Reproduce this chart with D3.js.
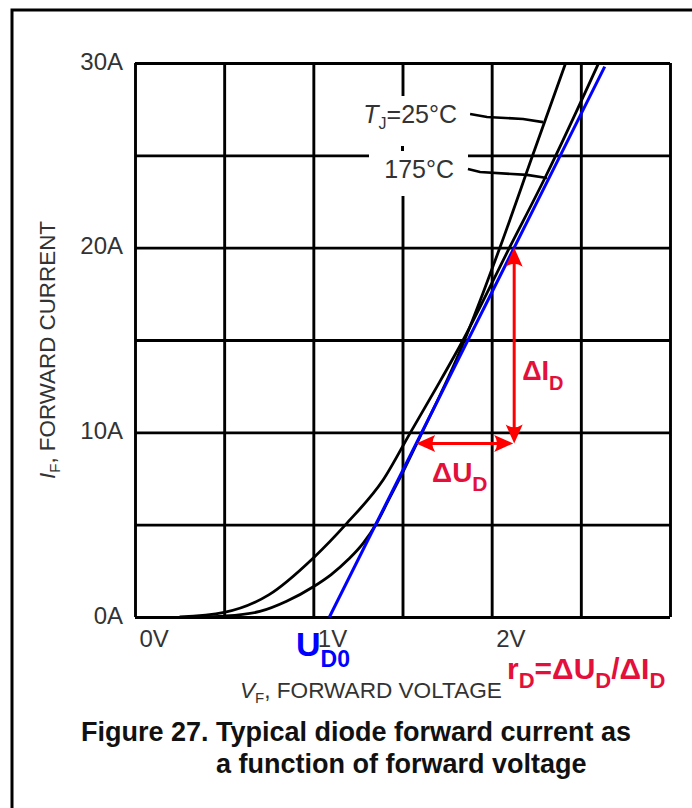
<!DOCTYPE html>
<html>
<head>
<meta charset="utf-8">
<script src="https://cdn.jsdelivr.net/npm/d3@7"></script>
<style>
body { margin: 0; background: #fff; }
text { font-family: "Liberation Sans", Arial, sans-serif; }
</style>
</head>
<body>
<script>
"use strict";

// axis ticks and labels
var voltTicks = [0, 0.5, 1, 1.5, 2, 2.5, 3];
var voltLabels = ["0V", "", "1V", "", "2V", "", ""];
var currTicks = [0, 5, 10, 15, 20, 25, 30];
var currLabels = ["0A", "", "10A", "", "20A", "", "30A"];

// Tj = 25 C curve (V, A)
var volt25 = [0.35, 0.50, 0.70, 0.85, 1.00, 1.10, 1.20, 1.28, 1.35, 1.42, 1.50, 1.60, 1.72, 1.84, 1.95, 2.05, 2.23, 2.415];
var curr25 = [0, 0.05, 0.3, 0.85, 1.64, 2.3, 3.15, 4.0, 5.0, 6.3, 7.8, 9.8, 12.2, 14.8, 17.5, 20.1, 25, 30];

// Tj = 175 C curve (V, A)
var volt175 = [0.25, 0.50, 0.75, 1.00, 1.19, 1.39, 1.545, 1.695, 1.84, 2.10, 2.30, 2.60];
var curr175 = [0, 0.25, 1.2, 3.2, 5.1, 7.4, 10, 12.5, 15, 20, 23.8, 30];

// linear model I = (V - uD0) * slope
var uD0 = 1.09;
var slopeAV = 19.3;
var lineTopI = 29.8;
var deltaTopI = 20;
var deltaLowI = 9.4;

// label leaders (V, A)
var leader25V = [1.879, 1.974, 2.176, 2.288];
var leader25I = [27.24, 27.08, 26.97, 26.80];
var leader175V = [1.867, 1.935, 2.198, 2.31];
var leader175I = [24.26, 24.10, 23.94, 23.77];

var widthEcran = 692;
var heightEcran = 808;
var plot = {left: 135, right: 670, top: 63, bottom: 617};
var red = "#ff0000";
var crimson = "#e3103c";
var grey = "#333";

var x = d3.scaleLinear().domain([0, 3]).range([plot.left, plot.right]);
var y = d3.scaleLinear().domain([0, 30]).range([plot.bottom, plot.top]);

function zipPts(vs, is) {
    return vs.map(function (v, k) { return {v: v, i: is[k]}; });
}

function baseCanvas() {
    var canvas = d3.select("body")
        .append("svg")
        .attr("width", widthEcran)
        .attr("height", heightEcran);
    canvas.append("rect")
        .attr("x", 12)
        .attr("y", 10)
        .attr("width", 720)
        .attr("height", 830)
        .attr("fill", "white")
        .attr("stroke", "black")
        .attr("stroke-width", 3);
    return canvas;
}

function baseGrid(canvas) {
    var gx = canvas.append("g")
        .attr("transform", "translate(0," + plot.bottom + ")")
        .call(d3.axisBottom(x)
            .tickValues(voltTicks)
            .tickSize(-(plot.bottom - plot.top))
            .tickFormat(function (d, k) { return voltLabels[k]; }));
    var gy = canvas.append("g")
        .attr("transform", "translate(" + plot.left + ",0)")
        .call(d3.axisLeft(y)
            .tickValues(currTicks)
            .tickSize(-(plot.right - plot.left))
            .tickFormat(function (d, k) { return currLabels[k]; }));
    [gx, gy].forEach(function (g) {
        g.select(".domain").remove();
        g.selectAll("line")
            .attr("stroke", "black")
            .attr("stroke-width", 2.9);
        g.selectAll("text")
            .attr("fill", grey)
            .attr("font-size", 24)
            .attr("font-family", "Liberation Sans, Arial, sans-serif");
    });
    gx.selectAll("text")
        .attr("text-anchor", "start")
        .attr("x", 4)
        .attr("y", 30)
        .attr("dy", null);
    gy.selectAll("text")
        .attr("x", -12)
        .attr("y", 6)
        .attr("dy", null);

    // gap in the grid behind the temperature labels
    canvas.append("rect")
        .attr("x", 369)
        .attr("y", 96)
        .attr("width", 99)
        .attr("height", 100)
        .attr("fill", "white");
    canvas.append("rect")
        .attr("x", x(1.5) - 1.5)
        .attr("y", 146)
        .attr("width", 3)
        .attr("height", 5)
        .attr("fill", "black");
}

function baseCurves(canvas) {
    var line = d3.line()
        .x(function (d) { return x(d.v); })
        .y(function (d) { return y(d.i); })
        .curve(d3.curveMonotoneX);
    [zipPts(volt25, curr25), zipPts(volt175, curr175)].forEach(function (pts) {
        canvas.append("path")
            .attr("d", line(pts))
            .attr("fill", "none")
            .attr("stroke", "black")
            .attr("stroke-width", 2.8);
    });

    var leader = d3.line()
        .x(function (d) { return x(d.v); })
        .y(function (d) { return y(d.i); });
    [zipPts(leader25V, leader25I), zipPts(leader175V, leader175I)].forEach(function (pts) {
        canvas.append("path")
            .attr("d", leader(pts))
            .attr("fill", "none")
            .attr("stroke", "black")
            .attr("stroke-width", 2.6);
    });

    canvas.append("path")
        .attr("d", leader([{v: uD0, i: 0}, {v: uD0 + lineTopI / slopeAV, i: lineTopI}]))
        .attr("fill", "none")
        .attr("stroke", "#0000ff")
        .attr("stroke-width", 3);
}

function baseArrow(canvas, x1, y1, x2, y2) {
    var len = Math.hypot(x2 - x1, y2 - y1);
    var ux = (x2 - x1) / len, uy = (y2 - y1) / len;
    var head = 19, half = 8.5;
    canvas.append("line")
        .attr("x1", x1 + ux * head * 0.8)
        .attr("y1", y1 + uy * head * 0.8)
        .attr("x2", x2 - ux * head * 0.8)
        .attr("y2", y2 - uy * head * 0.8)
        .attr("stroke", red)
        .attr("stroke-width", 3);
    [[x1, y1, ux, uy], [x2, y2, -ux, -uy]].forEach(function (a) {
        var bx = a[0] + a[2] * head, by = a[1] + a[3] * head;
        canvas.append("path")
            .attr("d", "M" + a[0] + "," + a[1] +
                "L" + (bx - a[3] * half) + "," + (by + a[2] * half) +
                "Q" + (a[0] + a[2] * head * 0.7) + "," + (a[1] + a[3] * head * 0.7) + " " +
                (bx + a[3] * half) + "," + (by - a[2] * half) + "Z")
            .attr("fill", red);
    });
}

function baseDeltas(canvas) {
    var vTop = uD0 + deltaTopI / slopeAV;
    var vLow = uD0 + deltaLowI / slopeAV;
    baseArrow(canvas, x(vTop), y(deltaTopI), x(vTop), y(deltaLowI));
    baseArrow(canvas, x(vLow), y(deltaLowI), x(vTop) - 1, y(deltaLowI));
}

function subText(canvas, px, py, size, color, parts) {
    var t = canvas.append("text")
        .attr("x", px)
        .attr("y", py)
        .attr("font-size", size)
        .attr("fill", color);
    parts.forEach(function (p) {
        var s = t.append("tspan").text(p.t);
        if (p.size) s.attr("font-size", p.size);
        if (p.dy) s.attr("dy", p.dy);
        if (p.italic) s.attr("font-style", "italic");
        if (p.bold) s.attr("font-weight", "bold");
    });
    return t;
}

function baseText(canvas) {
    subText(canvas, 457, 123, 25, grey, [
        {t: "T", italic: true}, {t: "J", size: 16, dy: 6}, {t: "=25°C", dy: -6}
    ]).attr("text-anchor", "end");
    subText(canvas, 454, 178, 25, grey, [{t: "175°C"}]).attr("text-anchor", "end");

    subText(canvas, 0, 0, 22.4, grey, [
        {t: "I", italic: true}, {t: "F", size: 15, dy: 5}, {t: ", FORWARD CURRENT", dy: -5}
    ]).attr("transform", "translate(55,350) rotate(-90)").attr("text-anchor", "middle");
    subText(canvas, 240, 698, 22.6, grey, [
        {t: "V", italic: true}, {t: "F", size: 15, dy: 5}, {t: ", FORWARD VOLTAGE", dy: -5}
    ]);

    subText(canvas, 296, 656, 34, "#0000ff", [
        {t: "U", bold: true}, {t: "D0", bold: true, size: 23, dy: 11}
    ]);
    subText(canvas, 507, 679, 30, crimson, [
        {t: "r", bold: true}, {t: "D", bold: true, size: 22, dy: 9},
        {t: "=ΔU", bold: true, dy: -9}, {t: "D", bold: true, size: 22, dy: 9},
        {t: "/ΔI", bold: true, dy: -9}, {t: "D", bold: true, size: 22, dy: 9}
    ]);

    var vTop = uD0 + deltaTopI / slopeAV;
    subText(canvas, x(vTop) + 8, 380, 27, crimson, [
        {t: "ΔI", bold: true}, {t: "D", bold: true, size: 20, dy: 10}
    ]);
    subText(canvas, 432, 482, 28, crimson, [
        {t: "ΔU", bold: true}, {t: "D", bold: true, size: 21, dy: 9}
    ]);

    canvas.append("text")
        .attr("x", 81)
        .attr("y", 741)
        .attr("font-size", 27)
        .attr("font-weight", "bold")
        .attr("fill", "#111")
        .text("Figure 27. Typical diode forward current as");
    canvas.append("text")
        .attr("x", 216)
        .attr("y", 773)
        .attr("font-size", 27)
        .attr("font-weight", "bold")
        .attr("fill", "#111")
        .text("a function of forward voltage");
}

var canvas = baseCanvas();
baseGrid(canvas);
baseCurves(canvas);
baseDeltas(canvas);
baseText(canvas);
</script>
</body>
</html>
